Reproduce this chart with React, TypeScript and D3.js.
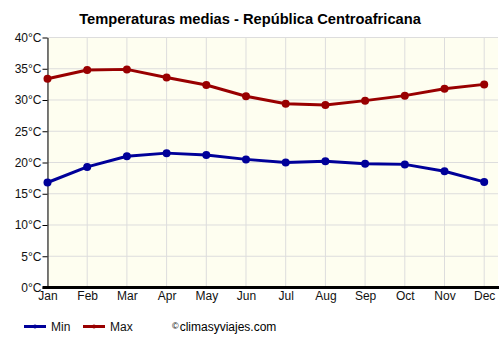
import * as d3 from "d3";
import { useEffect, useRef } from "react";

const months = ["Jan", "Feb", "Mar", "Apr", "May", "Jun", "Jul", "Aug", "Sep", "Oct", "Nov", "Dec"];
const minTemps = [16.8, 19.3, 21.0, 21.5, 21.2, 20.5, 20.0, 20.2, 19.8, 19.7, 18.6, 16.9];
const maxTemps = [33.4, 34.8, 34.9, 33.6, 32.4, 30.6, 29.4, 29.2, 29.9, 30.7, 31.8, 32.5];
const yTicks = [0, 5, 10, 15, 20, 25, 30, 35, 40];

const W = 500;
const H = 350;
const font = "Arial, 'Liberation Sans', sans-serif";

export default function App() {
  const svgRef = useRef<SVGSVGElement>(null);

  useEffect(() => {
    if (!svgRef.current) return;
    const svg = d3.select(svgRef.current);
    svg.selectAll("*").remove();

    const left = 47.5;
    const right = 498;
    const top = 37.5;
    const bottom = 287.5;

    const x = d3
      .scalePoint<string>()
      .domain(months)
      .range([left, left + 39.7 * 11]);
    const y = d3.scaleLinear().domain([0, 40]).range([bottom, top]);

    // plot background
    svg
      .append("rect")
      .attr("x", left)
      .attr("y", top)
      .attr("width", right - left)
      .attr("height", bottom - top)
      .attr("fill", "#fefef0");

    // grid
    const grid = svg.append("g").attr("stroke", "#dddddd").attr("stroke-width", 1);
    grid
      .selectAll("line.h")
      .data(yTicks)
      .enter()
      .append("line")
      .attr("x1", left)
      .attr("x2", right)
      .attr("y1", (d) => y(d))
      .attr("y2", (d) => y(d));
    grid
      .selectAll("line.v")
      .data(months)
      .enter()
      .append("line")
      .attr("x1", (d) => x(d)!)
      .attr("x2", (d) => x(d)!)
      .attr("y1", top)
      .attr("y2", bottom);

    // y axis
    const yAxis = svg
      .append("g")
      .attr("transform", `translate(${left},0)`)
      .call(
        d3
          .axisLeft(y)
          .tickValues(yTicks)
          .tickSize(5)
          .tickSizeOuter(0)
          .tickFormat((d) => `${d}°C`),
      );
    yAxis.select(".domain").attr("stroke", "#000");
    yAxis.selectAll(".tick line").attr("stroke", "#000");
    yAxis
      .selectAll(".tick text")
      .attr("fill", "#111")
      .attr("font-family", font)
      .attr("font-size", "12px")
      .attr("x", -6);

    // x axis
    const xAxis = svg
      .append("g")
      .attr("transform", `translate(0,${bottom})`)
      .call(d3.axisBottom(x).tickSize(0).tickPadding(4));
    xAxis.select(".domain").remove();
    xAxis
      .selectAll(".tick text")
      .attr("fill", "#111")
      .attr("font-family", font)
      .attr("font-size", "12px");
    svg
      .append("line")
      .attr("x1", left - 5)
      .attr("x2", right + 1)
      .attr("y1", bottom)
      .attr("y2", bottom)
      .attr("stroke", "#000")
      .attr("stroke-width", 3);

    const series = [
      { name: "Min", values: minTemps, color: "#000099" },
      { name: "Max", values: maxTemps, color: "#990000" },
    ];

    const line = d3
      .line<number>()
      .x((_, i) => x(months[i])!)
      .y((d) => y(d));

    series.forEach((s) => {
      svg
        .append("path")
        .datum(s.values)
        .attr("d", line)
        .attr("fill", "none")
        .attr("stroke", s.color)
        .attr("stroke-width", 3)
        .attr("stroke-linejoin", "round");
      svg
        .append("g")
        .selectAll("circle")
        .data(s.values)
        .enter()
        .append("circle")
        .attr("cx", (_, i) => x(months[i])!)
        .attr("cy", (d) => y(d))
        .attr("r", 4)
        .attr("fill", s.color);
    });

    // title
    svg
      .append("text")
      .attr("x", 250)
      .attr("y", 24)
      .attr("text-anchor", "middle")
      .attr("font-family", font)
      .attr("font-size", "14.7px")
      .attr("font-weight", "bold")
      .attr("fill", "#000")
      .text("Temperaturas medias - República Centroafricana");

    // legend
    const legend = svg.append("g").attr("font-family", font).attr("font-size", "12px");
    const legendX = [24, 83];
    series.forEach((s, i) => {
      const lx = legendX[i];
      legend
        .append("line")
        .attr("x1", lx)
        .attr("x2", lx + 22)
        .attr("y1", 326.5)
        .attr("y2", 326.5)
        .attr("stroke", s.color)
        .attr("stroke-width", 3);
      legend
        .append("circle")
        .attr("cx", lx + 11)
        .attr("cy", 326.5)
        .attr("r", 2)
        .attr("fill", s.color);
      legend
        .append("text")
        .attr("x", lx + 27)
        .attr("y", 331)
        .attr("fill", "#111")
        .text(s.name);
    });
    const credit = legend.append("text").attr("x", 172).attr("y", 331).attr("fill", "#000");
    credit.append("tspan").attr("font-size", "9px").attr("dy", -2).text("©");
    credit.append("tspan").attr("dy", 2).attr("dx", 1).text("climasyviajes.com");
  }, []);

  return (
    <svg
      ref={svgRef}
      width={W}
      height={H}
      style={{ position: "absolute", left: 0, top: 0, background: "#fff" }}
    />
  );
}
